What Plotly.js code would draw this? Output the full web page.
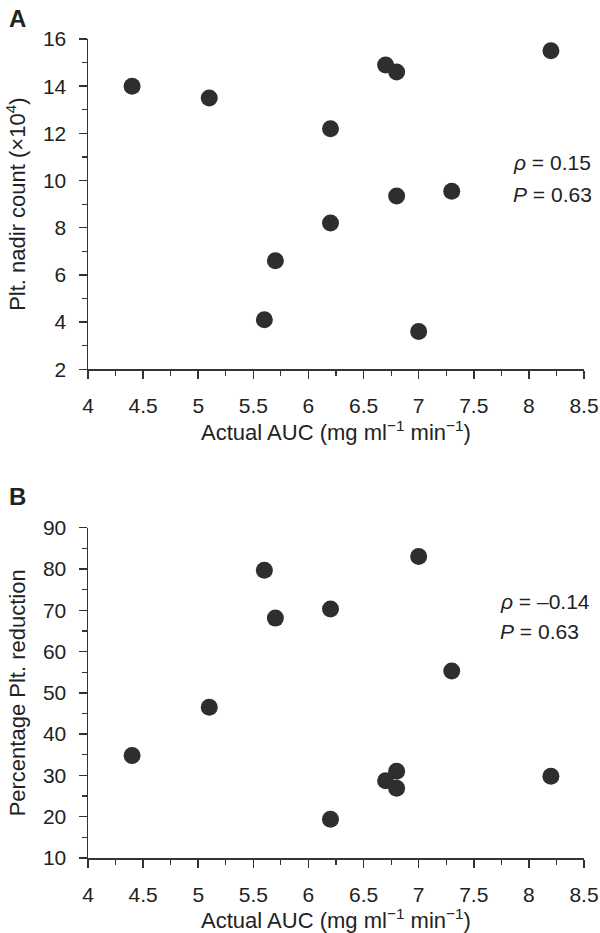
<!DOCTYPE html>
<html>
<head>
<meta charset="utf-8">
<script src="https://cdn.plot.ly/plotly-3.0.1.min.js"></script>
<style>html,body{margin:0;padding:0;background:#fff;}#chart{width:600px;height:933px;}</style>
</head>
<body>
<div id="chart"></div>
<script>
// Panel A: platelet nadir count vs actual AUC
const aucA = [4.4, 5.1, 6.7, 6.8, 8.2, 6.2, 6.8, 7.3, 6.2, 5.7, 5.6, 7.0];
const nadirA = [14.0, 13.5, 14.9, 14.6, 15.5, 12.2, 9.35, 9.55, 8.2, 6.6, 4.1, 3.6];
// Panel B: percentage platelet reduction vs actual AUC
const aucB = [7.0, 5.6, 6.2, 5.7, 7.3, 5.1, 4.4, 6.8, 6.7, 6.8, 8.2, 6.2];
const reductionB = [83.0, 79.7, 70.3, 68.1, 55.3, 46.5, 34.8, 31.0, 28.7, 26.9, 29.8, 19.4];
const xTicks = [4, 4.5, 5, 5.5, 6, 6.5, 7, 7.5, 8, 8.5];
const yTicksA = [2, 4, 6, 8, 10, 12, 14, 16];
const yTicksB = [10, 20, 30, 40, 50, 60, 70, 80, 90];

const FONT = 'Liberation Sans, Arial, Helvetica, sans-serif';
const INK = '#333333';
const TXT = '#222222';
const marker = {size: 17, color: '#2e2e2e', line: {width: 0}};

const traces = [
  {x: aucA, y: nadirA, type: 'scatter', mode: 'markers', marker: marker, xaxis: 'x', yaxis: 'y', hoverinfo: 'x+y'},
  {x: aucB, y: reductionB, type: 'scatter', mode: 'markers', marker: marker, xaxis: 'x2', yaxis: 'y2', hoverinfo: 'x+y'}
];

function xAxis(anchor) {
  return {
    anchor: anchor, domain: [0, 1], range: [4, 8.5],
    tickvals: xTicks, ticktext: xTicks.map(String),
    showline: true, linecolor: INK, linewidth: 1.5,
    ticks: 'outside', ticklen: 8, tickwidth: 1.5, tickcolor: INK,
    minor: {dtick: 0.25, tick0: 4, ticks: 'outside', ticklen: 5, tickwidth: 1.2, tickcolor: INK, showgrid: false},
    showgrid: false, zeroline: false, mirror: false,
    tickfont: {family: FONT, size: 21, color: TXT},
    ticklabelstandoff: 9,
    title: {text: 'Actual AUC (mg ml<sup>\u22121</sup> min<sup>\u22121</sup>)', font: {family: FONT, size: 22, color: TXT}, standoff: 7},
    automargin: false, fixedrange: true
  };
}
function yAxis(anchor, domain, range, ticks, minorStep, title) {
  return {
    anchor: anchor, domain: domain, range: range,
    tickvals: ticks, ticktext: ticks.map(String),
    showline: true, linecolor: INK, linewidth: 1.5,
    ticks: 'outside', ticklen: 8, tickwidth: 1.5, tickcolor: INK,
    minor: {dtick: minorStep, tick0: range[0], ticks: 'outside', ticklen: 5, tickwidth: 1.2, tickcolor: INK, showgrid: false},
    showgrid: false, zeroline: false,
    tickfont: {family: FONT, size: 21, color: TXT},
    ticklabelstandoff: 8,
    title: {text: title, font: {family: FONT, size: 22, color: TXT}, standoff: 11},
    automargin: false, fixedrange: true
  };
}

const annFont = {family: FONT, size: 21, color: TXT};
const layout = {
  width: 600, height: 933,
  margin: {l: 88, r: 16, t: 39, b: 75},
  paper_bgcolor: '#ffffff', plot_bgcolor: '#ffffff',
  showlegend: false,
  font: {family: FONT, color: TXT},
  xaxis: xAxis('y'),
  yaxis: yAxis('x', [0.5967, 1], [2, 16], yTicksA, 1, 'Plt. nadir count (\u00d710<sup>4</sup>)'),
  xaxis2: xAxis('y2'),
  yaxis2: yAxis('x2', [0, 0.4033], [10, 90], yTicksB, 5, 'Percentage Plt. reduction'),
  annotations: [
    {text: '<b>A</b>', xref: 'paper', yref: 'paper', x: -0.142, y: 1.0256, xanchor: 'center', yanchor: 'middle', showarrow: false, font: {family: FONT, size: 24, color: TXT}},
    {text: '<b>B</b>', xref: 'paper', yref: 'paper', x: -0.142, y: 0.4414, xanchor: 'center', yanchor: 'middle', showarrow: false, font: {family: FONT, size: 24, color: TXT}},
    {text: '<i>\u03c1</i> = 0.15', xref: 'paper', yref: 'paper', x: 0.853, y: 0.8486, xanchor: 'left', yanchor: 'middle', showarrow: false, font: annFont},
    {text: '<i>P</i> = 0.63', xref: 'paper', yref: 'paper', x: 0.853, y: 0.8107, xanchor: 'left', yanchor: 'middle', showarrow: false, font: annFont},
    {text: '<i>\u03c1</i> = \u20130.14', xref: 'paper', yref: 'paper', x: 0.8266, y: 0.3130, xanchor: 'left', yanchor: 'middle', showarrow: false, font: annFont},
    {text: '<i>P</i> = 0.63', xref: 'paper', yref: 'paper', x: 0.8266, y: 0.2763, xanchor: 'left', yanchor: 'middle', showarrow: false, font: annFont}
  ]
};

Plotly.newPlot('chart', traces, layout, {displayModeBar: false, staticPlot: true});
</script>
</body>
</html>
